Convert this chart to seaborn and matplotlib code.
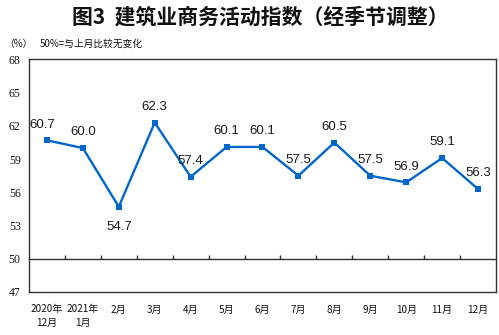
import matplotlib
matplotlib.use("Agg")
import matplotlib.pyplot as plt
import seaborn as sns
import numpy as np
import pandas as pd

sns.set_theme(style="white")
plt.rcParams['font.family'] = ['Noto Sans CJK SC', 'DejaVu Sans']

months = ["2020年\n12月", "2021年\n1月", "2月", "3月", "4月", "5月", "6月",
          "7月", "8月", "9月", "10月", "11月", "12月"]
index_values = [60.7, 60.0, 54.7, 62.3, 57.4, 60.1, 60.1, 57.5, 60.5, 57.5, 56.9, 59.1, 56.3]
y_ticks = [47, 50, 53, 56, 59, 62, 65, 68]
label_below = [False, False, True, False, False, False, False, False, False, False, False, False, False]

df = pd.DataFrame({"pos": np.arange(len(months)), "value": index_values})

fig = plt.figure(figsize=(4.99, 3.35), dpi=100)
ax = fig.add_axes([0.0581, 0.1284, 0.9359, 0.6940])

line_color = "#0066CC"
sns.lineplot(data=df, x="pos", y="value", ax=ax, color=line_color, linewidth=1.7,
             marker="s", markersize=5, markeredgewidth=0, markerfacecolor=line_color)

for i, (v, below) in enumerate(zip(index_values, label_below)):
    dx = -0.12 if i == 0 else 0
    if below:
        ax.annotate(f"{v:.1f}", (i + dx, v), xytext=(0, -10), textcoords="offset points",
                    ha="center", va="top", fontsize=9.5, family="Liberation Sans", color="#1a1a1a")
    else:
        ax.annotate(f"{v:.1f}", (i + dx, v), xytext=(0, 7), textcoords="offset points",
                    ha="center", va="bottom", fontsize=9.5, family="Liberation Sans", color="#1a1a1a")

ax.set_xlim(-0.5, len(months) - 0.5)
ax.set_ylim(47, 68)
ax.set_yticks(y_ticks)
ax.set_yticklabels([str(t) for t in y_ticks], fontsize=8.5, family="Liberation Serif")
ax.set_xticks(np.arange(len(months)))
ax.set_xticklabels(months, fontsize=7.2, linespacing=1.4, va="top")
ax.tick_params(axis="both", length=0, colors="#111111")
ax.tick_params(axis="x", pad=9)
ax.tick_params(axis="y", pad=6)
ax.set_xlabel("")
ax.set_ylabel("")

for s in ax.spines.values():
    s.set_color("#333333")
    s.set_linewidth(1.0)

# reference line at 50 with category-boundary ticks pointing up
ref = ax.secondary_xaxis((50 - 47) / (68 - 47))
ref.set_xticks(np.arange(len(months) - 1) + 0.5)
ref.tick_params(direction="in", length=3, width=1, colors="#333333", labelbottom=False)
ref.spines["bottom"].set_color("#333333")
ref.spines["bottom"].set_linewidth(1.0)

fig.text(0.521, 0.948, "图3  建筑业商务活动指数（经季节调整）", ha="center", va="center",
         fontsize=15, fontweight="bold", color="#111111")
fig.text(0.008, 0.868, "（%）", ha="left", va="center", fontsize=7, color="#111111")
fig.text(0.08, 0.868, "50%=与上月比较无变化", ha="left", va="center", fontsize=7, color="#111111")

fig.savefig("out.png", dpi=100)
